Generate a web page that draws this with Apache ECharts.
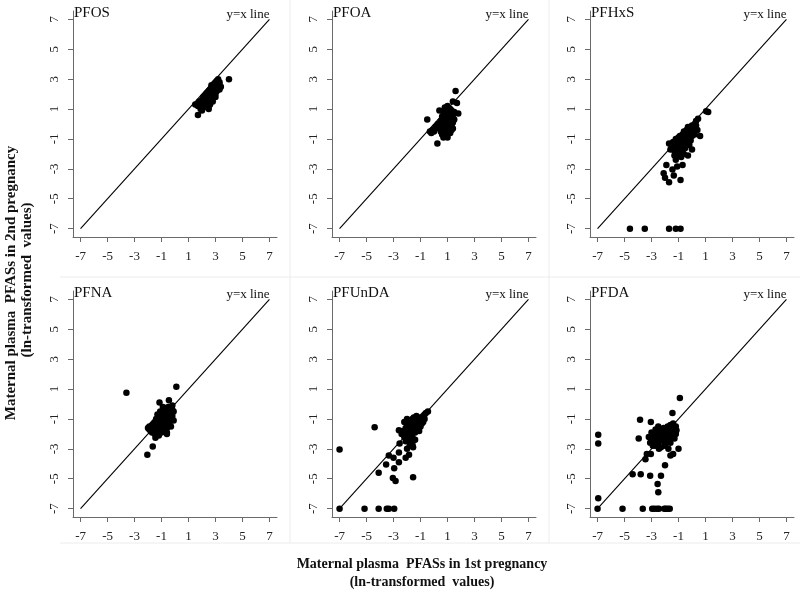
<!DOCTYPE html>
<html>
<head>
<meta charset="utf-8">
<script src="https://cdn.jsdelivr.net/npm/echarts@6/dist/echarts.min.js"></script>
<style>
html,body{margin:0;padding:0;background:#fff;}
#chart{width:800px;height:590px;}
</style>
</head>
<body>
<div id="chart"></div>
<script>
// ---------- data ----------
var panelNames = ['PFOS', 'PFOA', 'PFHxS', 'PFNA', 'PFUnDA', 'PFDA'];
var tickValues = [-7, -5, -3, -1, 1, 3, 5, 7];
var refLine = [[-7, -7], [7, 7]];
var refLabel = 'y=x line';
var xTitle = ['Maternal plasma  PFASs in 1st pregnancy', '(ln-transformed  values)'];
var yTitle = ['Maternal plasma  PFASs in 2nd pregnancy', '(ln-transformed  values)'];

var pfos = [[4.0,3.0],[1.7,0.6],[1.5,1.3],[1.7,1.2],[1.8,1.5],[1.9,1.0],[1.9,1.4],[2.0,1.2],[2.0,1.6],[2.0,0.9],[2.1,1.4],[2.1,1.8],[2.1,1.1],[2.2,1.5],[2.2,1.3],[2.2,1.9],[2.3,1.6],[2.3,1.2],[2.3,2.0],[2.4,1.7],[2.4,1.4],[2.4,2.1],[2.5,1.8],[2.5,1.5],[2.5,2.2],[2.5,1.2],[2.6,1.9],[2.6,1.6],[2.6,2.3],[2.6,1.3],[2.7,2.0],[2.7,1.7],[2.7,2.4],[2.7,2.6],[2.8,2.1],[2.8,1.8],[2.8,2.5],[2.8,1.5],[2.9,2.2],[2.9,2.7],[2.9,1.9],[2.9,2.4],[3.0,2.3],[3.0,2.8],[3.0,2.0],[3.0,2.6],[3.1,2.5],[3.1,2.9],[3.1,2.2],[3.2,2.7],[3.2,2.4],[3.2,3.0],[3.3,2.6],[3.3,2.3],[3.3,2.8],[3.4,2.5],[2.4,1.9],[2.6,2.0],[2.2,1.7],[2.0,1.3],[2.8,2.3],[3.0,1.8],[2.5,1.0],[1.8,1.2]];

var pfoa = [[1.6,2.2],[1.4,1.5],[1.7,1.4],[1.8,0.7],[-0.5,0.3],[0.4,0.9],[0.25,-1.3],[-0.3,-0.5],[-0.1,-0.4],[0.1,-0.2],[-0.2,-0.6],[0.0,-0.5],[0.3,0.0],[0.4,-0.3],[0.5,0.2],[0.5,-0.5],[0.6,0.5],[0.6,-0.1],[0.6,-0.7],[0.7,0.8],[0.7,0.3],[0.7,-0.3],[0.7,-0.9],[0.8,1.1],[0.8,0.6],[0.8,0.0],[0.8,-0.5],[0.8,-0.8],[0.9,0.9],[0.9,0.4],[0.9,-0.1],[0.9,-0.6],[0.9,0.2],[1.0,1.2],[1.0,0.7],[1.0,0.2],[1.0,-0.3],[1.0,-0.7],[1.0,0.5],[1.1,1.0],[1.1,0.5],[1.1,0.0],[1.1,-0.4],[1.1,-0.2],[1.2,0.8],[1.2,0.3],[1.2,-0.2],[1.2,-0.6],[1.2,0.6],[1.3,0.9],[1.3,0.4],[1.3,-0.1],[1.3,-0.4],[1.4,0.6],[1.4,0.1],[1.4,-0.3],[1.5,0.8],[1.5,0.3],[1.1,0.8],[0.9,0.6],[0.8,0.3],[1.0,0.0],[0.6,0.1],[0.7,0.0],[1.2,1.0],[1.0,-0.9],[0.9,-0.8]];

var pfhxs = [[-4.6,-7],[-3.5,-7],[-1.7,-7],[-1.2,-7],[-0.85,-7],[1.05,0.85],[1.2,0.8],[0.45,0.35],[0.6,-0.8],[0.0,-1.7],[-0.3,-2.1],[-1.9,-2.75],[-1.1,-2.85],[-0.7,-2.75],[-2.1,-3.3],[-2.0,-3.6],[-1.7,-3.9],[-1.35,-3.45],[-0.85,-3.75],[-1.45,-3.05],[-1.2,-2.4],[-0.95,-2.05],[-1.6,-1.7],[-1.7,-1.3],[-1.5,-1.5],[-1.4,-1.2],[-1.3,-1.8],[-1.3,-1.4],[-1.2,-1.0],[-1.2,-1.6],[-1.1,-1.3],[-1.1,-2.0],[-1.0,-0.9],[-1.0,-1.5],[-1.0,-1.8],[-0.9,-1.2],[-0.9,-0.8],[-0.9,-1.6],[-0.8,-1.0],[-0.8,-1.4],[-0.8,-2.2],[-0.7,-0.7],[-0.7,-1.2],[-0.7,-1.7],[-0.6,-0.9],[-0.6,-1.4],[-0.6,-0.5],[-0.5,-1.1],[-0.5,-0.7],[-0.5,-1.6],[-0.4,-0.8],[-0.4,-0.4],[-0.4,-1.3],[-0.3,-0.6],[-0.3,-1.0],[-0.3,-0.2],[-0.2,-0.5],[-0.2,-0.9],[-0.2,-1.4],[-0.1,-0.3],[-0.1,-0.7],[-0.1,-1.1],[0.0,-0.4],[0.0,-0.1],[0.0,-0.8],[0.1,-0.5],[0.1,-0.2],[0.2,-0.3],[0.2,0.0],[0.2,-0.7],[0.3,-0.1],[0.3,0.2],[0.4,-0.4],[-0.6,-2.0],[-0.9,-2.1],[-1.3,-2.1]];

var pfna = [[-3.6,0.75],[0.1,1.15],[-2.05,-3.4],[-1.65,-2.85],[-0.45,0.25],[-1.15,0.1],[-0.6,-1.9],[-1.45,-2.25],[-1.9,-1.7],[-2.0,-1.6],[-1.9,-1.5],[-1.8,-1.8],[-1.7,-1.4],[-1.7,-1.9],[-1.6,-1.6],[-1.5,-1.2],[-1.5,-2.0],[-1.4,-1.5],[-1.4,-1.0],[-1.3,-1.8],[-1.3,-1.2],[-1.3,-0.7],[-1.2,-1.5],[-1.2,-0.9],[-1.2,-2.1],[-1.1,-1.2],[-1.1,-0.5],[-1.1,-1.7],[-1.0,-1.0],[-1.0,-1.4],[-1.0,-0.6],[-1.0,-1.9],[-0.9,-1.2],[-0.9,-0.8],[-0.9,-1.6],[-0.9,-0.2],[-0.8,-1.0],[-0.8,-1.4],[-0.8,-0.6],[-0.8,-1.8],[-0.7,-1.1],[-0.7,-0.7],[-0.7,-1.5],[-0.7,-0.3],[-0.6,-0.9],[-0.6,-1.3],[-0.6,-0.5],[-0.6,-1.6],[-0.5,-1.0],[-0.5,-0.7],[-0.5,-1.4],[-0.5,-0.2],[-0.4,-0.8],[-0.4,-1.2],[-0.4,-0.5],[-0.3,-0.6],[-0.3,-1.0],[-0.3,-0.3],[-0.2,-0.4],[-0.2,-0.8],[-0.1,-0.5],[-0.1,-1.1],[-0.6,-2.0],[-1.2,-2.0],[-0.3,-1.5],[-1.6,-1.3],[-0.2,-0.1]];

var pfunda = [[-7,-3.05],[-7,-7],[-5.15,-7],[-4.1,-7],[-3.5,-7],[-3.35,-7],[-2.95,-7],[-4.4,-1.55],[-4.1,-4.6],[-3.55,-4.05],[-3.35,-3.45],[-3.0,-3.6],[-2.95,-4.3],[-3.05,-4.95],[-2.85,-5.15],[-1.55,-4.9],[-2.6,-3.9],[-2.6,-3.25],[-2.1,-3.6],[-1.85,-3.4],[-2.55,-2.65],[-2.6,-1.75],[-1.8,-2.3],[-1.55,-2.9],[-0.45,-0.5],[-2.3,-1.8],[-2.2,-1.2],[-2.2,-2.2],[-2.1,-1.6],[-2.1,-2.5],[-2.0,-1.0],[-2.0,-1.9],[-1.9,-1.4],[-1.9,-2.3],[-1.9,-1.1],[-1.8,-1.7],[-1.8,-2.0],[-1.7,-1.2],[-1.7,-1.5],[-1.7,-2.6],[-1.6,-1.0],[-1.6,-1.8],[-1.6,-2.2],[-1.5,-1.3],[-1.5,-1.6],[-1.5,-0.9],[-1.4,-1.1],[-1.4,-1.9],[-1.4,-2.4],[-1.3,-1.4],[-1.3,-0.8],[-1.3,-1.7],[-1.2,-1.2],[-1.2,-1.5],[-1.1,-1.0],[-1.1,-1.3],[-1.1,-1.8],[-1.0,-0.9],[-1.0,-1.2],[-1.0,-1.5],[-0.9,-1.0],[-0.9,-1.3],[-0.8,-0.8],[-0.8,-1.2],[-0.7,-0.7],[-0.7,-1.0],[-0.6,-0.6],[-1.8,-2.8],[-2.0,-3.0],[-1.6,-2.7],[-2.4,-2.0]];

var pfda = [[-6.95,-2.05],[-6.95,-2.65],[-6.95,-6.3],[-7,-7],[-5.15,-7],[-3.65,-7],[-2.95,-7],[-2.8,-7],[-2.6,-7],[-2.45,-7],[-2.05,-7],[-1.95,-7],[-1.8,-7],[-1.65,-7],[-0.9,0.4],[-3.85,-1.05],[-3.05,-1.2],[-3.95,-2.3],[-4.4,-4.7],[-3.8,-4.7],[-3.1,-4.8],[-2.3,-4.8],[-2.55,-5.35],[-2.5,-5.9],[-2.0,-4.1],[-1.45,-0.6],[-1.0,-3.0],[-1.15,-1.75],[-1.6,-3.45],[-1.4,-3.35],[-2.45,-3.0],[-3.35,-3.35],[-3.45,-3.7],[-3.05,-3.35],[-1.75,-3.0],[-2.7,-2.8],[-3.2,-2.2],[-3.1,-2.6],[-3.0,-1.9],[-3.0,-2.4],[-2.9,-2.8],[-2.8,-2.1],[-2.8,-2.5],[-2.7,-1.7],[-2.6,-2.3],[-2.6,-1.9],[-2.5,-2.6],[-2.4,-2.0],[-2.4,-2.4],[-2.3,-1.7],[-2.3,-2.9],[-2.2,-2.2],[-2.2,-1.9],[-2.1,-2.5],[-2.1,-1.6],[-2.0,-2.0],[-2.0,-2.3],[-1.9,-1.7],[-1.9,-2.6],[-1.8,-1.5],[-1.8,-2.1],[-1.7,-1.8],[-1.7,-2.4],[-1.6,-1.4],[-1.6,-2.0],[-1.5,-1.7],[-1.5,-2.2],[-1.4,-1.3],[-1.4,-1.9],[-1.3,-1.6],[-1.3,-2.3],[-1.2,-1.5],[-1.2,-2.0],[-2.5,-1.5],[-2.0,-2.8],[-1.6,-2.6]];

var panelData = [pfos, pfoa, pfhxs, pfna, pfunda, pfda];

// ---------- layout ----------
var AX_MIN = -7.56, AX_MAX = 7.56;
var gridLefts = [73, 332, 590];
var gridTops = [11, 291];
var GW = 204, GH = 226;
var serif = '"Liberation Serif", "Times New Roman", serif';
var axisColor = '#6a6a6a';

var grids = [], xAxes = [], yAxes = [], series = [], titles = [];
for (var i = 0; i < 6; i++) {
  var col = i % 3, row = Math.floor(i / 3);
  var L = gridLefts[col], T = gridTops[row];
  grids.push({left: L, top: T, width: GW, height: GH, containLabel: false});
  xAxes.push({
    gridIndex: i, type: 'value', min: AX_MIN, max: AX_MAX,
    axisLine: {show: true, onZero: false, lineStyle: {color: axisColor, width: 1}},
    axisTick: {show: true, customValues: tickValues, length: 5, lineStyle: {color: axisColor}},
    axisLabel: {customValues: tickValues, fontFamily: serif, fontSize: 13, color: '#222', margin: 13},
    splitLine: {show: false}
  });
  yAxes.push({
    gridIndex: i, type: 'value', min: AX_MIN, max: AX_MAX,
    axisLine: {show: true, onZero: false, lineStyle: {color: axisColor, width: 1}},
    axisTick: {show: true, customValues: tickValues, length: 5, lineStyle: {color: axisColor}},
    axisLabel: {customValues: tickValues, fontFamily: serif, fontSize: 13, color: '#222', margin: 12, rotate: 90},
    splitLine: {show: false}
  });
  series.push({
    type: 'line', xAxisIndex: i, yAxisIndex: i, data: refLine,
    showSymbol: false, silent: true, animation: false,
    lineStyle: {color: '#000', width: 1.1}, z: 2
  });
  series.push({
    type: 'scatter', xAxisIndex: i, yAxisIndex: i, data: panelData[i],
    symbol: 'circle', symbolSize: 6.5, animation: false,
    itemStyle: {color: '#000', opacity: 1}, z: 3
  });
  titles.push({
    text: panelNames[i], left: L + 1, top: T - 5, padding: 0,
    textStyle: {fontFamily: serif, fontSize: 15, fontWeight: 'normal', color: '#111'}
  });
  titles.push({
    text: refLabel, right: 800 - (L + GW - 7.5), top: T - 3, padding: 0,
    textStyle: {fontFamily: serif, fontSize: 13, fontWeight: 'normal', color: '#111'}
  });
}

var faint = '#ececec';
var graphics = [
  {type: 'line', shape: {x1: 290, y1: 0, x2: 290, y2: 543}, style: {stroke: faint, lineWidth: 1}, silent: true},
  {type: 'line', shape: {x1: 549, y1: 0, x2: 549, y2: 543}, style: {stroke: faint, lineWidth: 1}, silent: true},
  {type: 'line', shape: {x1: 60, y1: 277, x2: 800, y2: 277}, style: {stroke: faint, lineWidth: 1}, silent: true},
  {type: 'line', shape: {x1: 60, y1: 543, x2: 800, y2: 543}, style: {stroke: faint, lineWidth: 1}, silent: true},
  {type: 'text', x: 422, y: 564, style: {text: xTitle[0], font: 'bold 14px ' + serif, fill: '#111', align: 'center', verticalAlign: 'middle'}},
  {type: 'text', x: 422, y: 582, style: {text: xTitle[1], font: 'bold 14px ' + serif, fill: '#111', align: 'center', verticalAlign: 'middle'}},
  {type: 'text', x: 11, y: 283, rotation: Math.PI / 2, style: {text: yTitle[0], font: 'bold 15px ' + serif, fill: '#111', align: 'center', verticalAlign: 'middle'}},
  {type: 'text', x: 27, y: 280, rotation: Math.PI / 2, style: {text: yTitle[1], font: 'bold 15px ' + serif, fill: '#111', align: 'center', verticalAlign: 'middle'}}
];

var chart = echarts.init(document.getElementById('chart'), null, {renderer: 'canvas'});
chart.setOption({
  animation: false,
  backgroundColor: '#fff',
  title: titles,
  grid: grids,
  xAxis: xAxes,
  yAxis: yAxes,
  series: series,
  graphic: graphics
});
</script>
</body>
</html>
